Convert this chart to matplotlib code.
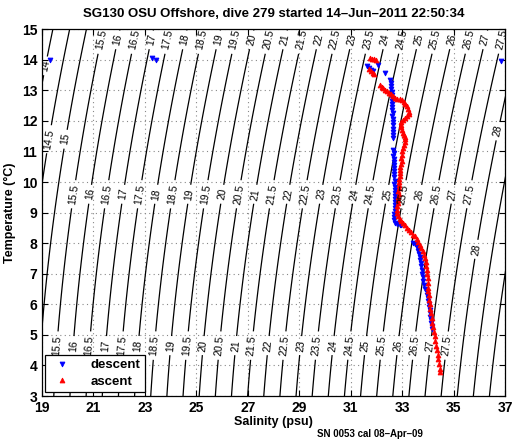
import numpy as np
import matplotlib
matplotlib.use("Agg")
import matplotlib.pyplot as plt

plt.rcParams['font.family'] = ['Liberation Sans', 'DejaVu Sans']

title = "SG130 OSU Offshore, dive 279 started 14\u2013Jun\u20132011 22:50:34"
footnote = "SN 0053 cal 08\u2013Apr\u201309"
xticks = [19, 21, 23, 25, 27, 29, 31, 33, 35, 37]
yticks = list(range(3, 16))
levels = list(np.arange(13.5, 29.01, 0.5))

# descent (salinity, temperature)
desc_S = [19.3, 23.28, 23.43, 36.85,
          31.65, 31.72, 31.78, 31.85, 32.06, 32.34,
          32.52, 32.55, 32.56, 32.58, 32.59, 32.60, 32.60, 32.61, 32.61, 32.62,
          32.62, 32.63, 32.62, 32.63, 32.64, 32.64, 32.65, 32.64, 32.65, 32.66,
          32.66, 32.67, 32.66, 32.68, 32.67, 32.68, 32.69, 32.68, 32.70, 32.70,
          32.71, 32.70, 32.72, 32.71, 32.72, 32.73, 32.72, 32.74, 32.73, 32.74,
          32.72, 32.70, 32.69, 32.70, 32.74, 32.82, 32.90, 32.97,
          33.43, 33.50, 33.56, 33.60, 33.63, 33.66, 33.68, 33.71, 33.73, 33.75,
          33.77, 33.79, 33.81, 33.83, 33.86, 33.90, 33.95, 33.98, 34.00, 34.02,
          34.04, 34.06, 34.07, 34.08, 34.10, 34.12, 34.14, 34.16, 34.18]
desc_T = [14.0, 14.05, 13.98, 13.95,
          13.78, 13.72, 13.66, 13.62, 13.82, 13.56,
          13.35, 13.25, 13.15, 13.05, 12.95, 12.85, 12.75, 12.65, 12.55, 12.45,
          12.35, 12.25, 12.15, 12.05, 11.95, 11.85, 11.75, 11.65, 11.55, 11.45,
          11.05, 10.95, 10.85, 10.75, 10.65, 10.55, 10.45, 10.35, 10.25, 10.15,
          10.05, 9.95, 9.85, 9.75, 9.65, 9.55, 9.45, 9.35, 9.25, 9.15,
          9.05, 8.95, 8.85, 8.75, 8.66, 8.62, 8.60, 8.58,
          8.02, 7.97, 7.90, 7.82, 7.74, 7.66, 7.55, 7.45, 7.35, 7.25,
          7.12, 7.00, 6.88, 6.75, 6.62, 6.50, 6.40, 6.30, 6.20, 6.10,
          6.00, 5.90, 5.80, 5.70, 5.60, 5.50, 5.40, 5.30, 5.20]

# ascent (salinity, temperature)
asc_S = [31.75, 31.82, 31.90, 31.98, 31.72, 31.78, 31.85, 31.92,
         32.14, 32.20, 32.26, 32.33, 32.40, 32.48, 32.56, 32.64, 32.72, 32.80,
         32.90, 32.98, 33.06, 33.12, 33.18, 33.23, 33.26, 33.25, 33.20, 33.12,
         33.04, 32.97, 32.94, 32.95, 32.98, 33.02, 33.06, 33.10, 33.12, 33.10,
         33.06, 33.02, 33.00, 32.98, 32.96, 32.98, 32.95, 32.93, 32.92, 32.90,
         32.90, 32.88, 32.87, 32.88, 32.86, 32.85, 32.86, 32.84, 32.83, 32.84,
         32.82, 32.80, 32.82, 32.85, 32.90, 32.96, 33.04, 33.12, 33.20, 33.28,
         33.36, 33.44, 33.50, 33.56, 33.62, 33.68, 33.74, 33.80, 33.85, 33.88,
         33.91, 33.94, 33.96, 33.98, 33.99, 34.00, 34.01, 34.02, 34.04, 34.06,
         34.08, 34.10, 34.12, 34.15, 34.17, 34.20, 34.23, 34.26, 34.29, 34.32,
         34.35, 34.38, 34.41, 34.44, 34.46, 34.48]
asc_T = [14.05, 14.03, 14.02, 14.00, 13.70, 13.64, 13.58, 13.52,
         13.17, 13.12, 13.07, 13.02, 12.97, 12.92, 12.87, 12.80, 12.76, 12.73,
         12.70, 12.68, 12.63, 12.56, 12.48, 12.40, 12.30, 12.22, 12.15, 12.08,
         12.02, 11.95, 11.88, 11.80, 11.70, 11.62, 11.55, 11.48, 11.40, 11.30,
         11.20, 11.10, 11.00, 10.90, 10.80, 10.70, 10.60, 10.50, 10.40, 10.30,
         10.20, 10.10, 10.00, 9.90, 9.80, 9.70, 9.60, 9.50, 9.40, 9.30,
         9.20, 9.10, 9.00, 8.90, 8.80, 8.72, 8.66, 8.58, 8.50, 8.42,
         8.35, 8.28, 8.22, 8.15, 8.05, 7.95, 7.85, 7.75, 7.62, 7.50,
         7.38, 7.25, 7.12, 7.00, 6.85, 6.70, 6.55, 6.42, 6.30, 6.15,
         6.00, 5.85, 5.70, 5.55, 5.40, 5.25, 5.10, 4.95, 4.80, 4.65,
         4.50, 4.35, 4.20, 4.05, 3.90, 3.78]


def sigma0(S, T):
    """UNESCO EOS-80 density anomaly at p = 0."""
    rw = (999.842594 + 6.793952e-2 * T - 9.095290e-3 * T**2 + 1.001685e-4 * T**3
          - 1.120083e-6 * T**4 + 6.536332e-9 * T**5)
    A = 8.24493e-1 - 4.0899e-3 * T + 7.6438e-5 * T**2 - 8.2467e-7 * T**3 + 5.3875e-9 * T**4
    B = -5.72466e-3 + 1.0227e-4 * T - 1.6546e-6 * T**2
    C = 4.8314e-4
    return rw + A * S + B * S**1.5 + C * S**2 - 1000.0


fig = plt.figure(figsize=(5.19, 4.42), dpi=100)
ax = fig.add_axes([0.081, 0.104, 0.892, 0.830])

Sg = np.linspace(18.5, 37.5, 400)
Tg = np.linspace(2.5, 15.5, 300)
SS, TT = np.meshgrid(Sg, Tg)
cs = ax.contour(SS, TT, sigma0(SS, TT), levels=levels, colors='k', linewidths=0.9)

# label positions (on the contours)
Sfine = np.linspace(18.5, 37.5, 4000)
pos = []
for row_T in (14.65, 9.6, 4.65):
    sig = sigma0(Sfine, row_T)
    for lv in levels:
        if 15.4 < lv < 27.6:
            s = np.interp(lv, sig, Sfine)
            if 19.2 < s < 36.95:
                pos.append((s, row_T))
for lv, t in [(14.0, 13.8), (14.5, 11.4), (15.0, 11.4), (28.0, 11.67), (28.0, 7.8)]:
    s = np.interp(lv, sigma0(Sfine, t), Sfine)
    pos.append((s, t))
ax.clabel(cs, manual=pos, inline=True, fontsize=7.5, fmt=lambda v: f"{v:g}", inline_spacing=3)

ax.plot(desc_S, desc_T, linestyle='none', marker='v', color='b', markersize=3.5,
        markeredgewidth=0.6, label='descent')
ax.plot(asc_S, asc_T, linestyle='none', marker='^', color='r', markersize=3.5,
        markeredgewidth=0.6, label='ascent')

ax.set_xlim(19, 37)
ax.set_ylim(3, 15)
ax.set_xticks(xticks)
ax.set_yticks(yticks)
ax.tick_params(direction='in', top=True, right=True, length=4, labelsize=10)
for lab in ax.get_xticklabels() + ax.get_yticklabels():
    lab.set_fontweight('bold')
ax.grid(True, linestyle=(0, (1, 3)), color='#888888', linewidth=0.8)
ax.set_axisbelow(True)
for sp in ax.spines.values():
    sp.set_linewidth(0.9)

ax.set_xlabel('Salinity (psu)', fontweight='bold', fontsize=9, labelpad=1)
ax.set_ylabel('Temperature (\u00b0C)', fontweight='bold', fontsize=9, labelpad=4)
ax.set_title(title, fontweight='bold', fontsize=9.5, pad=9)
fig.text(0.713, 0.018, footnote, fontweight='bold', fontsize=7, ha='center', va='center')

leg = ax.legend(loc='lower left', bbox_to_anchor=(0.006, 0.012), borderaxespad=0,
                fancybox=False, edgecolor='k', framealpha=1, prop={'weight': 'bold', 'size': 9.5},
                handletextpad=1.2, markerscale=1.0, borderpad=0.3, labelspacing=0.3)
leg.get_frame().set_linewidth(0.9)

fig.savefig('out.png', dpi=100)
